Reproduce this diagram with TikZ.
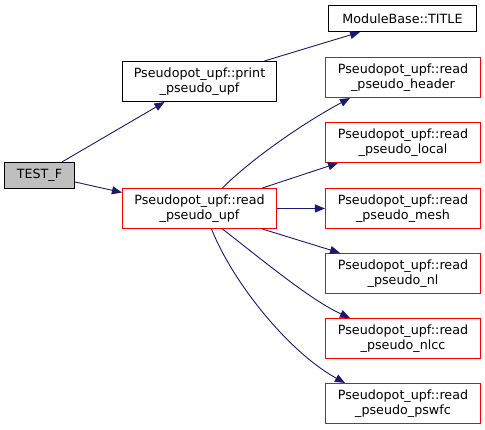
\documentclass[tikz,border=0pt]{standalone}
\usepackage{fontspec}
\setmainfont{DejaVu Sans}
\usetikzlibrary{arrows.meta}
\definecolor{edgeblue}{HTML}{191970}
\definecolor{rootgray}{HTML}{BFBFBF}
\definecolor{boxred}{HTML}{FF0000}
\begin{document}
\begin{tikzpicture}[x=1pt,y=-1pt,
  basebox/.style={line width=1.1pt, inner sep=0pt, align=center, text=black,
    font=\fontsize{12.7pt}{14.5pt}\selectfont, minimum height=40pt},
  box/.style={basebox, draw=black, minimum width=154pt},
  redbox/.style={basebox, draw=boxred, minimum width=155pt},
  onebox/.style={basebox, draw=black, minimum height=26pt},
  edge/.style={draw=edgeblue, line width=0.9pt, -{Triangle[length=10pt,width=8pt]}}]
\useasboundingbox (0,0) rectangle (485,430);
\node[onebox, fill=rootgray, minimum width=70pt] (test) at (39.5,175.5) {TEST\_F};
\node[box] (print) at (199.5,81.5) {Pseudopot\_upf::print\\\_pseudo\_upf};
\node[redbox, minimum width=154pt] (rupf) at (199.5,208.5) {Pseudopot\_upf::read\\\_pseudo\_upf};
\node[onebox, minimum width=148pt] (title) at (402.5,18.5) {ModuleBase::TITLE};
\node[redbox] (header) at (403,77.5) {Pseudopot\_upf::read\\\_pseudo\_header};
\node[redbox] (local) at (403,142.5) {Pseudopot\_upf::read\\\_pseudo\_local};
\node[redbox] (mesh) at (403,208.5) {Pseudopot\_upf::read\\\_pseudo\_mesh};
\node[redbox] (nl) at (403,273.5) {Pseudopot\_upf::read\\\_pseudo\_nl};
\node[redbox] (nlcc) at (403,338.5) {Pseudopot\_upf::read\\\_pseudo\_nlcc};
\node[redbox] (pswfc) at (403,403.5) {Pseudopot\_upf::read\\\_pseudo\_pswfc};
% edges
\draw[edge] ([xshift=22.5pt]test.north) -- ([xshift=-35pt]print.south);
\draw[edge] ([yshift=-6.5pt]test.east) -- ([yshift=16pt]rupf.west);
\draw[edge] ([xshift=65pt]print.north) -- ([xshift=-42.5pt]title.south);
\draw[edge] ([xshift=23pt]rupf.north) .. controls +(30,-30) and +(-45,24) .. ([xshift=-53pt]header.south);
\draw[edge] ([xshift=63pt]rupf.north) -- ([xshift=-65pt]local.south);
\draw[edge] (rupf.east) -- (mesh.west);
\draw[edge] ([xshift=63pt]rupf.south) -- ([xshift=-63pt]nl.north);
\draw[edge] ([xshift=23pt]rupf.south) .. controls +(35,27) and +(-40,-18) .. ([xshift=-53pt]nlcc.north);
\draw[edge] ([xshift=12pt]rupf.south) .. controls +(22,55) and +(-55,-30) .. ([xshift=-58pt]pswfc.north);
\end{tikzpicture}
\end{document}
